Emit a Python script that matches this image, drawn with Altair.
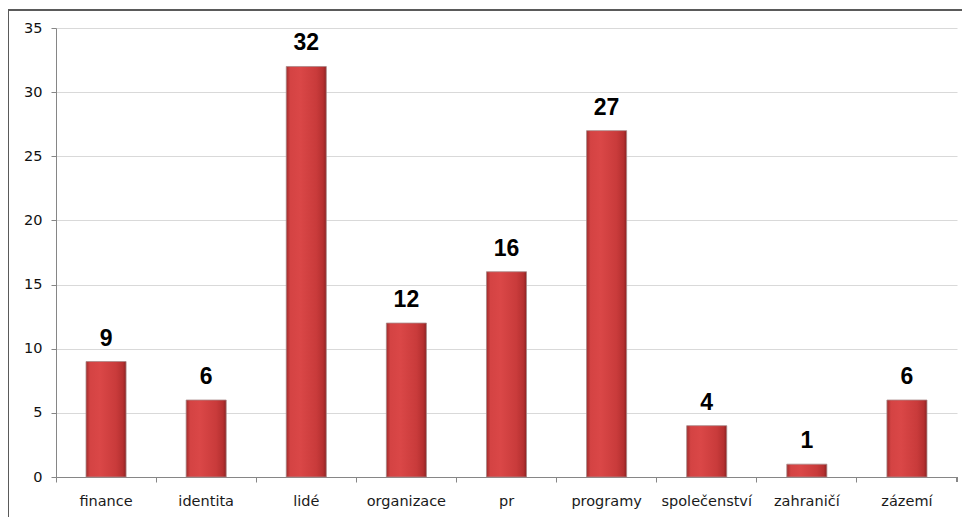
import altair as alt
import pandas as pd

categories = ["finance", "identita", "lidé", "organizace", "pr", "programy",
              "společenství", "zahraničí", "zázemí"]
values = [9, 6, 32, 12, 16, 27, 4, 1, 6]
y_ticks = [0, 5, 10, 15, 20, 25, 30, 35]

df = pd.DataFrame({"kategorie": categories, "pocet": values})

W, H = 901, 449

grad = alt.Gradient(
    gradient="linear", x1=0, x2=1, y1=0, y2=0,
    stops=[
        alt.GradientStop(offset=0, color="#a02c2c"),
        alt.GradientStop(offset=0.1, color="#d44343"),
        alt.GradientStop(offset=0.35, color="#da4747"),
        alt.GradientStop(offset=0.75, color="#c93b3b"),
        alt.GradientStop(offset=0.92, color="#b53030"),
        alt.GradientStop(offset=1, color="#8e2222"),
    ],
)

xenc = alt.X(
    "kategorie:N", sort=categories,
    scale=alt.Scale(paddingInner=0, paddingOuter=0),
    axis=alt.Axis(title=None, labelAngle=0, bandPosition=0, tickSize=5,
                  tickColor="#868686", domainColor="#868686",
                  labelFont="DejaVu Sans", labelFontSize=14.5, labelColor="#1a1a1a",
                  labelPadding=12, grid=False),
)
yenc = alt.Y(
    "pocet:Q",
    scale=alt.Scale(domain=[0, 35], nice=False),
    axis=alt.Axis(title=None, values=y_ticks, tickSize=5, tickColor="#868686",
                  domainColor="#868686", gridColor="#d9d9d9", labelFont="DejaVu Sans",
                  labelFontSize=14.5, labelColor="#111111", labelPadding=9),
)

border = alt.Chart(df).mark_rect(fill="transparent", stroke="#5a5a5a", strokeWidth=2).encode(
    x=alt.value(-48), x2=alt.value(1000), y=alt.value(-18), y2=alt.value(700)
)

bars = alt.Chart(df).mark_bar(
    color=grad, width=alt.RelativeBandSize(0.4), stroke="#a88888", strokeWidth=0.8
).encode(x=xenc, y=yenc)

labels = alt.Chart(df).mark_text(
    font="Liberation Sans", fontSize=23, fontWeight="bold", color="#000000",
    baseline="alphabetic", dy=-16
).encode(x=alt.X("kategorie:N", sort=categories), y="pocet:Q", text="pocet:Q")

end_tick = alt.Chart(df).mark_rule(color="#868686").encode(
    x=alt.value(W), y=alt.value(H), y2=alt.value(H + 5)
)

chart = alt.layer(border, bars, labels, end_tick).properties(
    width=W, height=H,
    autosize=alt.AutoSizeParams(type="none"),
    padding={"left": 48, "top": 20, "right": 5, "bottom": 40},
).configure_view(stroke=None)

chart.save("out.html", embed_options={"renderer": "svg", "actions": False})
